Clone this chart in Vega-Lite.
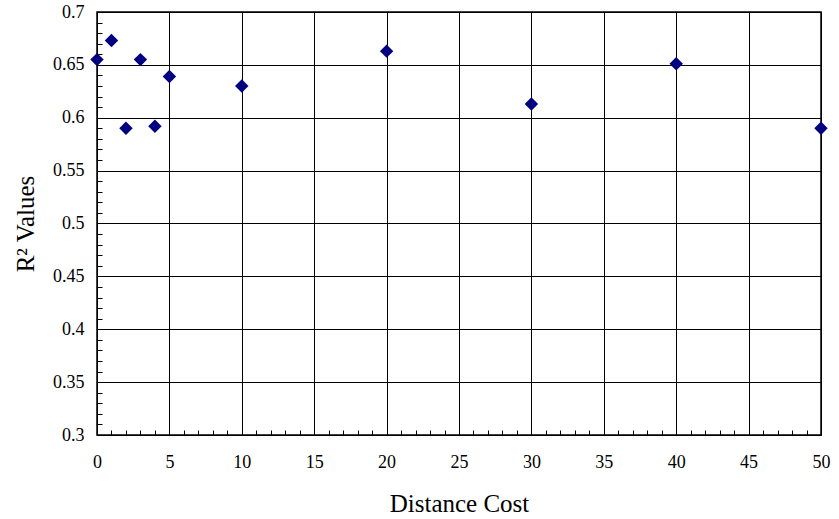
{
  "$schema": "https://vega.github.io/schema/vega-lite/v6.json",
  "width": 724,
  "height": 423,
  "autosize": "none",
  "padding": {"left": 97, "top": 12, "right": 18, "bottom": 84},
  "background": "white",
  "config": {
    "view": {"stroke": "black", "strokeWidth": 1.5},
    "font": "Liberation Serif",
    "axis": {
      "labelFont": "Liberation Serif",
      "titleFont": "Liberation Serif",
      "labelFontSize": 18,
      "titleFontSize": 25,
      "titleFontWeight": "normal",
      "labelColor": "black",
      "titleColor": "black",
      "domainColor": "black",
      "tickColor": "black",
      "gridColor": "black",
      "gridWidth": 1
    }
  },
  "data": {
    "values": [
      {"cost": 0, "r2": 0.655},
      {"cost": 1, "r2": 0.673},
      {"cost": 2, "r2": 0.590},
      {"cost": 3, "r2": 0.655},
      {"cost": 4, "r2": 0.592},
      {"cost": 5, "r2": 0.639},
      {"cost": 10, "r2": 0.630},
      {"cost": 20, "r2": 0.663},
      {"cost": 30, "r2": 0.613},
      {"cost": 40, "r2": 0.651},
      {"cost": 50, "r2": 0.590}
    ]
  },
  "mark": {"type": "point", "shape": "diamond", "filled": true, "color": "#000080", "size": 180, "opacity": 1},
  "encoding": {
    "x": {
      "field": "cost",
      "type": "quantitative",
      "title": "Distance Cost",
      "scale": {"domain": [0, 50], "nice": false, "zero": false},
      "axis": {
        "values": [0,1,2,3,4,5,6,7,8,9,10,11,12,13,14,15,16,17,18,19,20,21,22,23,24,25,26,27,28,29,30,31,32,33,34,35,36,37,38,39,40,41,42,43,44,45,46,47,48,49,50],
        "labelExpr": "round(datum.value) % 5 == 0 ? datum.label : ''",
        "grid": true,
        "gridOpacity": {"condition": {"test": "round(datum.value) % 5 == 0", "value": 1}, "value": 0},
        "tickSize": -5,
        "labelPadding": 23,
        "titlePadding": 20,
        "labelFlush": false,
        "labelOverlap": false
      }
    },
    "y": {
      "field": "r2",
      "type": "quantitative",
      "title": "R² Values",
      "scale": {"domain": [0.3, 0.7], "nice": false, "zero": false},
      "axis": {
        "values": [0.3,0.31,0.32,0.33,0.34,0.35,0.36,0.37,0.38,0.39,0.4,0.41,0.42,0.43,0.44,0.45,0.46,0.47,0.48,0.49,0.5,0.51,0.52,0.53,0.54,0.55,0.56,0.57,0.58,0.59,0.6,0.61,0.62,0.63,0.64,0.65,0.66,0.67,0.68,0.69,0.7],
        "labelExpr": "round(datum.value * 100) % 5 == 0 ? format(datum.value, '~g') : ''",
        "grid": true,
        "gridOpacity": {"condition": {"test": "round(datum.value * 100) % 5 == 0", "value": 1}, "value": 0},
        "tickSize": -5,
        "labelPadding": 18,
        "titlePadding": 14,
        "labelFlush": false,
        "labelOverlap": false
      }
    }
  }
}
